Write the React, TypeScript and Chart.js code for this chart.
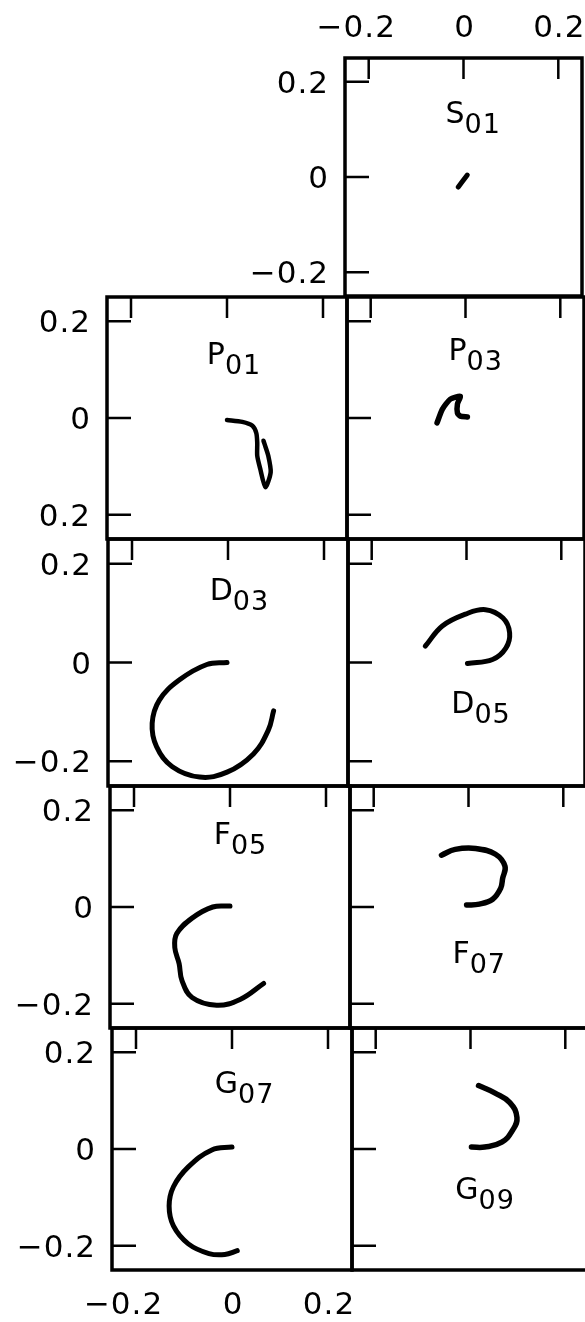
import React, { useEffect, useRef } from "react";
import { Chart, registerables } from "chart.js";

Chart.register(...registerables);

// Axis ticks shared by every panel
const TICK_VALUES = [-0.2, 0, 0.2];
const X_TICK_LABELS = ["−0.2", "0", "0.2"];
const Y_TICK_LABELS = ["0.2", "0", "−0.2"];
const Y_TICK_LABELS_P = ["0.2", "0", "0.2"];

// Trajectories (x, y) for each partial wave
const S01_X = [-0.011, -0.002, 0.008];
const S01_Y = [-0.021, -0.009, 0.004];

const P01_X = [0, 0.032, 0.053, 0.061, 0.063, 0.063, 0.069, 0.08, 0.091, 0.086, 0.078, 0.076];
const P01_Y = [-0.004, -0.008, -0.016, -0.031, -0.051, -0.078, -0.104, -0.143, -0.112, -0.078, -0.053, -0.047];

const P03_X = [-0.06, -0.049, -0.032, -0.011, -0.017, -0.017, -0.011, 0.004];
const P03_Y = [-0.01, 0.018, 0.039, 0.045, 0.029, 0.01, 0.004, 0.002];

const D03_X = [-0.002, -0.044, -0.101, -0.143, -0.158, -0.149, -0.116, -0.059, -0.002, 0.053, 0.084, 0.095];
const D03_Y = [0, -0.004, -0.035, -0.076, -0.123, -0.17, -0.211, -0.232, -0.222, -0.185, -0.137, -0.098];

const D05_X = [-0.087, -0.051, -0.002, 0.04, 0.077, 0.091, 0.083, 0.055, 0.002];
const D05_Y = [0.033, 0.074, 0.098, 0.107, 0.09, 0.06, 0.029, 0.006, -0.002];

const F05_X = [0, -0.036, -0.079, -0.111, -0.115, -0.106, -0.1, -0.079, -0.028, 0.021, 0.07];
const F05_Y = [0.002, 0, -0.023, -0.055, -0.084, -0.117, -0.152, -0.187, -0.203, -0.191, -0.158];

const F07_X = [-0.057, -0.028, 0.015, 0.057, 0.077, 0.072, 0.068, 0.051, 0.023, -0.004];
const F07_Y = [0.107, 0.119, 0.121, 0.109, 0.084, 0.059, 0.039, 0.016, 0.006, 0.004];

const G07_X = [0, -0.042, -0.091, -0.122, -0.131, -0.122, -0.091, -0.048, -0.015, 0.011];
const G07_Y = [0.004, -0.002, -0.037, -0.078, -0.118, -0.159, -0.196, -0.216, -0.218, -0.21];

const G09_X = [0.017, 0.051, 0.083, 0.098, 0.089, 0.066, 0.03, 0.002];
const G09_Y = [0.131, 0.116, 0.096, 0.065, 0.039, 0.014, 0.004, 0.004];

// Grid geometry (page pixels)
const ROWS = [
  { top: 58, bottom: 296, shift: -2 },
  { top: 297, bottom: 539, shift: 0 },
  { top: 539, bottom: 786, shift: 1 },
  { top: 786, bottom: 1028, shift: 3 },
  { top: 1028, bottom: 1270, shift: 5 },
];
const COL_LEFT = [107, 347];
const COL_WIDTH = [240, 237];
const PAD = { left: 105, top: 58, right: 8, bottom: 52 };
const RANGE = 0.25;

const FONT = "'DejaVu Sans', 'Liberation Sans', sans-serif";

type PanelSpec = {
  letter: string;
  sub: string;
  xs: number[];
  ys: number[];
  row: number;
  col: number;
  labelX: number;
  labelY: number;
  tension: number;
  lineWidth: number;
  leftLabels?: string[];
  topLabels?: string[];
  bottomLabels?: string[];
};

const PANELS: PanelSpec[] = [
  { letter: "S", sub: "01", xs: S01_X, ys: S01_Y, row: 0, col: 1, labelX: -0.038, labelY: 0.113, tension: 0, lineWidth: 5, leftLabels: Y_TICK_LABELS, topLabels: X_TICK_LABELS },
  { letter: "P", sub: "01", xs: P01_X, ys: P01_Y, row: 1, col: 0, labelX: -0.042, labelY: 0.112, tension: 0.25, lineWidth: 4.5, leftLabels: Y_TICK_LABELS_P },
  { letter: "P", sub: "03", xs: P03_X, ys: P03_Y, row: 1, col: 1, labelX: -0.036, labelY: 0.12, tension: 0.2, lineWidth: 5.5 },
  { letter: "D", sub: "03", xs: D03_X, ys: D03_Y, row: 2, col: 0, labelX: -0.038, labelY: 0.127, tension: 0.4, lineWidth: 5, leftLabels: Y_TICK_LABELS },
  { letter: "D", sub: "05", xs: D05_X, ys: D05_Y, row: 2, col: 1, labelX: -0.032, labelY: -0.103, tension: 0.4, lineWidth: 5 },
  { letter: "F", sub: "05", xs: F05_X, ys: F05_Y, row: 3, col: 0, labelX: -0.034, labelY: 0.131, tension: 0.4, lineWidth: 5, leftLabels: Y_TICK_LABELS },
  { letter: "F", sub: "07", xs: F07_X, ys: F07_Y, row: 3, col: 1, labelX: -0.034, labelY: -0.115, tension: 0.4, lineWidth: 5.5 },
  { letter: "G", sub: "07", xs: G07_X, ys: G07_Y, row: 4, col: 0, labelX: -0.036, labelY: 0.116, tension: 0.4, lineWidth: 5, leftLabels: Y_TICK_LABELS, bottomLabels: X_TICK_LABELS },
  { letter: "G", sub: "09", xs: G09_X, ys: G09_Y, row: 4, col: 1, labelX: -0.032, labelY: -0.104, tension: 0.45, lineWidth: 5.5 },
];

// Axis number whose digits are centred on cx; a leading minus hangs to the left
function drawCenteredNumber(ctx: CanvasRenderingContext2D, text: string, cx: number, baseline: number) {
  const neg = text.startsWith("−");
  const body = neg ? text.slice(1) : text;
  const w = ctx.measureText(body).width;
  ctx.textAlign = "left";
  ctx.fillText(body, cx - w / 2 + 1, baseline);
  if (neg) {
    ctx.textAlign = "right";
    ctx.fillText("−", cx - w / 2 + 1, baseline);
  }
}

// Frame, inward ticks, tick labels and panel name for one panel
function makeFramePlugin(spec: PanelSpec) {
  return {
    id: "panelFrame",
    afterDatasetsDraw(chart: any) {
      const { ctx, chartArea: a, scales } = chart;
      const sx = scales.x;
      const sy = scales.y;
      ctx.save();
      ctx.strokeStyle = "#000";
      ctx.fillStyle = "#000";
      ctx.lineCap = "butt";

      ctx.lineWidth = 3.5;
      ctx.strokeRect(a.left, a.top, a.right - a.left, a.bottom - a.top);

      ctx.lineWidth = 2.5;
      ctx.beginPath();
      TICK_VALUES.forEach((v) => {
        const px = sx.getPixelForValue(v);
        ctx.moveTo(px, a.top);
        ctx.lineTo(px, a.top + 21);
        const py = sy.getPixelForValue(v);
        ctx.moveTo(a.left, py);
        ctx.lineTo(a.left + 24, py);
      });
      ctx.stroke();

      ctx.font = `31px ${FONT}`;
      (ctx as any).letterSpacing = "1px";
      ctx.textBaseline = "alphabetic";

      const left = spec.leftLabels;
      if (left) {
        ctx.textAlign = "right";
        [0.2, 0, -0.2].forEach((v, i) => {
          const py = sy.getPixelForValue(v);
          ctx.fillText(left[i], a.left - 16, py + 11);
        });
      }
      const top = spec.topLabels;
      if (top) {
        TICK_VALUES.forEach((v, i) => {
          drawCenteredNumber(ctx, top[i], sx.getPixelForValue(v), a.top - 21);
        });
      }
      const bottom = spec.bottomLabels;
      if (bottom) {
        TICK_VALUES.forEach((v, i) => {
          drawCenteredNumber(ctx, bottom[i], sx.getPixelForValue(v), a.bottom + 44);
        });
      }

      const lx = sx.getPixelForValue(spec.labelX);
      const ly = sy.getPixelForValue(spec.labelY);
      ctx.textAlign = "left";
      (ctx as any).letterSpacing = "0px";
      ctx.font = `30px ${FONT}`;
      ctx.fillText(spec.letter, lx, ly);
      const w = ctx.measureText(spec.letter).width;
      ctx.font = `27px ${FONT}`;
      (ctx as any).letterSpacing = "1px";
      ctx.fillText(spec.sub, lx + w, ly + 10);
      ctx.restore();
    },
  };
}

function Panel({ spec }: { spec: PanelSpec }) {
  const ref = useRef<HTMLCanvasElement | null>(null);
  const r = ROWS[spec.row];
  const boxLeft = COL_LEFT[spec.col] + r.shift;
  const boxW = COL_WIDTH[spec.col];
  const boxH = r.bottom - r.top;
  const width = boxW + PAD.left + PAD.right;
  const height = boxH + PAD.top + PAD.bottom;

  useEffect(() => {
    if (!ref.current) return;
    const points = spec.xs.map((x, i) => ({ x, y: spec.ys[i] }));
    const chart = new Chart(ref.current, {
      type: "scatter",
      data: {
        datasets: [
          {
            data: points,
            showLine: true,
            borderColor: "#000",
            borderWidth: spec.lineWidth,
            borderCapStyle: "round",
            borderJoinStyle: "round",
            tension: spec.tension,
            pointRadius: 0,
            pointHoverRadius: 0,
            fill: false,
          } as any,
        ],
      },
      options: {
        animation: false,
        responsive: false,
        maintainAspectRatio: false,
        devicePixelRatio: 1,
        events: [],
        layout: { padding: { ...PAD } },
        scales: {
          x: { type: "linear", min: -RANGE, max: RANGE, display: false },
          y: { type: "linear", min: -RANGE, max: RANGE, display: false },
        },
        plugins: {
          legend: { display: false },
          tooltip: { enabled: false },
        },
      },
      plugins: [makeFramePlugin(spec)],
    });
    return () => chart.destroy();
  }, [spec]);

  return (
    <canvas
      ref={ref}
      width={width}
      height={height}
      style={{
        position: "absolute",
        left: boxLeft - PAD.left,
        top: r.top - PAD.top,
        width,
        height,
      }}
    />
  );
}

export default function App() {
  return (
    <div
      style={{
        position: "absolute",
        left: 0,
        top: 0,
        width: 585,
        height: 1322,
        overflow: "hidden",
        background: "#fff",
      }}
    >
      {PANELS.map((p) => (
        <Panel key={p.letter + p.sub} spec={p} />
      ))}
    </div>
  );
}
